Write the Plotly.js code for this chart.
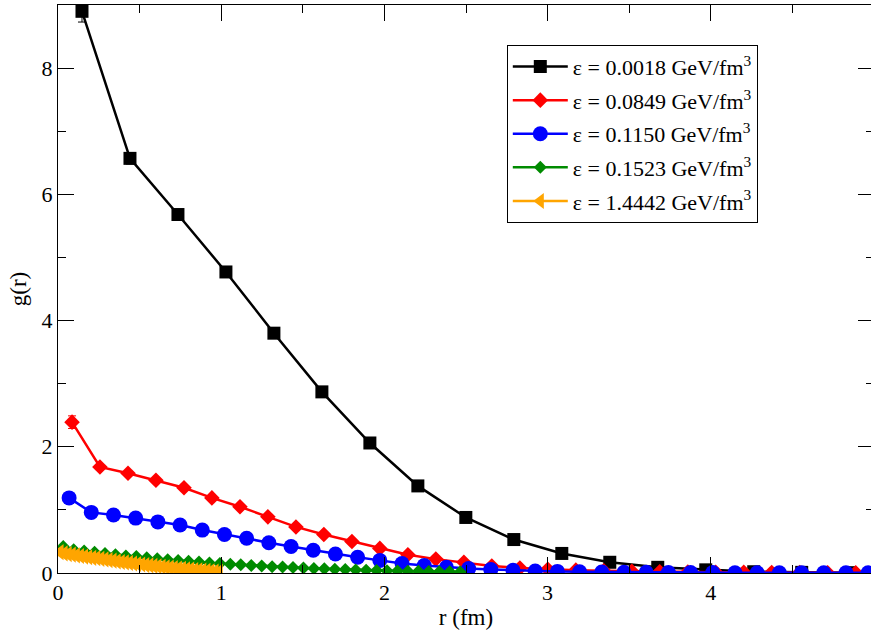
<!DOCTYPE html>
<html>
<head>
<meta charset="utf-8">
<script src="https://cdn.plot.ly/plotly-3.0.1.min.js"></script>
<style>
html,body{margin:0;padding:0;overflow:hidden;background:#fff;}
#chart{width:875px;height:631px;}
</style>
</head>
<body>
<div id="chart"></div>
<script>
// ---- data ----
const seriesNames = [
  "ε = 0.0018 GeV/fm<sup>3</sup>",
  "ε = 0.0849 GeV/fm<sup>3</sup>",
  "ε = 0.1150 GeV/fm<sup>3</sup>",
  "ε = 0.1523 GeV/fm<sup>3</sup>",
  "ε = 1.4442 GeV/fm<sup>3</sup>"
];

const r_black = [0.147,0.441,0.735,1.029,1.323,1.617,1.911,2.205,2.499,2.793,3.087,3.381,3.675,3.969,4.263,4.557,4.851];
const g_black = [8.90,6.57,5.68,4.77,3.80,2.87,2.06,1.38,0.88,0.53,0.31,0.17,0.09,0.05,0.02,0.01,0.005];
const e_black = [0.17,0.09,0.08,0.07,0.06,0.05,0.05,0.04,0.03,0.03,0.02,0.02,0.01,0.01,0.01,0.01,0.01];

const r_red = [0.086,0.257,0.429,0.600,0.772,0.943,1.115,1.286,1.458,1.629,1.801,1.972,2.144,2.315,2.487,2.658,2.830,3.001,3.173,3.344,3.516,3.687,3.859,4.030,4.202,4.373,4.545,4.716,4.888];
const g_red = [2.39,1.68,1.58,1.47,1.35,1.19,1.05,0.89,0.73,0.61,0.50,0.39,0.29,0.22,0.17,0.11,0.08,0.06,0.045,0.035,0.027,0.020,0.016,0.013,0.010,0.008,0.006,0.005,0.004];
const e_red = [0.10,0.04,0.03,0.03,0.03,0.03,0.02,0.02,0.02,0.02,0.02,0.01,0.01,0.01,0.01,0.01,0.01,0.01,0.01,0.01,0.01,0.01,0.01,0.01,0.01,0.01,0.01,0.01,0.01];

const r_blue = [0.068,0.204,0.340,0.476,0.612,0.748,0.884,1.020,1.156,1.292,1.428,1.564,1.700,1.836,1.972,2.108,2.244,2.380,2.516,2.652,2.788,2.924,3.060,3.196,3.332,3.468,3.604,3.740,3.876,4.012,4.148,4.284,4.420,4.556,4.692,4.828,4.964];
const g_blue = [1.19,0.96,0.92,0.87,0.81,0.76,0.68,0.61,0.55,0.48,0.42,0.36,0.30,0.25,0.20,0.15,0.12,0.09,0.07,0.055,0.042,0.032,0.025,0.020,0.016,0.013,0.010,0.008,0.007,0.006,0.005,0.004,0.004,0.003,0.003,0.002,0.002];

const r_green = [0.032,0.096,0.160,0.224,0.288,0.352,0.416,0.480,0.544,0.608,0.672,0.736,0.800,0.864,0.928,0.992,1.056,1.120,1.184,1.248,1.312,1.376,1.440,1.504,1.568,1.632,1.696,1.760,1.824,1.888,1.952,2.016,2.080,2.144,2.208,2.272,2.336,2.400,2.464];
const g_green = [0.42,0.37,0.35,0.33,0.31,0.29,0.27,0.26,0.24,0.225,0.21,0.20,0.185,0.175,0.16,0.15,0.14,0.13,0.12,0.11,0.10,0.095,0.088,0.080,0.072,0.066,0.060,0.054,0.049,0.044,0.040,0.036,0.032,0.029,0.026,0.023,0.020,0.018,0.016];

const r_orange = [0.0125,0.0375,0.0625,0.0875,0.1125,0.1375,0.1625,0.1875,0.2125,0.2375,0.2625,0.2875,0.3125,0.3375,0.3625,0.3875,0.4125,0.4375,0.4625,0.4875,0.5125,0.5375,0.5625,0.5875,0.6125,0.6375,0.6625,0.6875,0.7125,0.7375,0.7625,0.7875,0.8125,0.8375,0.8625,0.8875,0.9125,0.9375,0.9625,0.9875];
const g_orange = [0.33,0.31,0.30,0.29,0.28,0.27,0.26,0.25,0.24,0.235,0.225,0.215,0.205,0.195,0.185,0.175,0.168,0.16,0.15,0.142,0.135,0.127,0.12,0.112,0.105,0.098,0.091,0.085,0.078,0.072,0.066,0.060,0.054,0.048,0.043,0.038,0.033,0.028,0.024,0.020];

const xTickVals = [0,1,2,3,4,5];
const yTickVals = [0,2,4,6,8];

// ---- traces ----
const FONT = "'Liberation Serif', 'Times New Roman', serif";
function tr(x, y, err, name, color, symbol, size, grp) {
  const t = {
    x: x, y: y, name: name, type: "scatter", mode: "lines+markers",
    legendgroup: grp,
    line: {color: color, width: 2.5},
    marker: {color: color, symbol: symbol, size: size, line: {width: 0}},
    cliponaxis: true
  };
  if (err) t.error_y = {type: "data", array: err, visible: true, color: color, thickness: 1, width: 4};
  return t;
}
const data = [
  tr(r_black, g_black, e_black, seriesNames[0], "#000000", "square", 13, "a"),
  tr(r_red, g_red, e_red, seriesNames[1], "#ff0000", "diamond", 12, "b"),
  tr(r_blue, g_blue, null, seriesNames[2], "#0000ff", "circle", 15, "c"),
  tr(r_green, g_green, null, seriesNames[3], "#008b00", "diamond", 10, "d"),
  tr(r_orange, g_orange, null, seriesNames[4], "#ffa500", "triangle-left", 14, "e")
];

const layout = {
  width: 875, height: 631,
  margin: {l: 58, r: 1, t: 5, b: 58},
  paper_bgcolor: "#ffffff", plot_bgcolor: "#ffffff",
  font: {family: FONT, size: 22, color: "#000"},
  showlegend: true,
  legend: {
    x: 0.550, y: 0.93, xanchor: "left", yanchor: "top",
    bgcolor: "#ffffff", bordercolor: "#000000", borderwidth: 1,
    font: {family: FONT, size: 22, color: "#000"},
    tracegroupgap: 2, itemwidth: 55
  },
  xaxis: {
    range: [0, 5], tickvals: xTickVals, ticktext: xTickVals.map(String),
    ticks: "inside", ticklen: 16, tickwidth: 1, tickcolor: "#000",
    minor: {dtick: 0.5, ticks: "inside", ticklen: 8, tickwidth: 1, tickcolor: "#000", showgrid: false},
    showline: true, linecolor: "#000", linewidth: 1, mirror: "allticks",
    showgrid: false, zeroline: false,
    tickfont: {family: FONT, size: 22},
    title: {text: "r (fm)", font: {family: FONT, size: 23}, standoff: 4}
  },
  yaxis: {
    range: [0, 9], tickvals: yTickVals, ticktext: yTickVals.map(String),
    ticks: "inside", ticklen: 16, tickwidth: 1, tickcolor: "#000",
    minor: {dtick: 1, ticks: "inside", ticklen: 8, tickwidth: 1, tickcolor: "#000", showgrid: false},
    showline: true, linecolor: "#000", linewidth: 1, mirror: "allticks",
    showgrid: false, zeroline: false,
    tickfont: {family: FONT, size: 22},
    title: {text: "g(r)", font: {family: FONT, size: 23}, standoff: 8}
  }
};

Plotly.newPlot("chart", data, layout, {displayModeBar: false, staticPlot: true});
</script>
</body>
</html>
